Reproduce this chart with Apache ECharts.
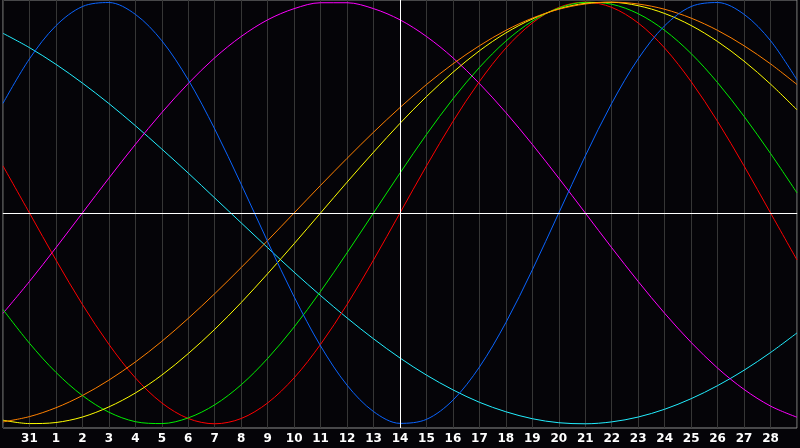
<html>
<head>
    <meta http-equiv="Content-Type" content="text/html; charset=utf-8">
    <title>echarts</title>
    <style>body{margin:0;background:#050408;}</style>
</head>
<body>
<div id="main" style="width:800px;height:448px;"></div>
</body>
</html>
<script type="text/javascript" src="https://cdn.jsdelivr.net/npm/echarts@6/dist/echarts.min.js"></script>
<script type="text/javascript">
// days shown along the bottom (first and last are the chart edges)
var days = ['30','31','1','2','3','4','5','6','7','8','9','10','11','12','13','14','15','16','17','18','19','20','21','22','23','24','25','26','27','28','29'];
var today = '14';

// one value per day, -100..100
var physical = [52.0,73.1,88.8,97.9,99.8,94.2,81.7,63.1,39.8,13.6,-13.6,-39.8,-63.1,-81.7,-94.2,-99.8,-97.9,-88.8,-73.1,-52.0,-27.0,0,27.0,52.0,73.1,88.8,97.9,99.8,94.2,81.7,63.1];
var emotional = [22.3,0,-22.3,-43.4,-62.3,-78.2,-90.1,-97.5,-100,-97.5,-90.1,-78.2,-62.3,-43.4,-22.3,0,22.3,43.4,62.3,78.2,90.1,97.5,100,97.5,90.1,78.2,62.3,43.4,22.3,0,-22.3];
var intellectual = [-45.8,-61.8,-75.6,-86.6,-94.5,-99.0,-99.9,-97.2,-91.0,-81.5,-69.0,-54.1,-37.2,-18.9,0,18.9,37.2,54.1,69.0,81.5,91.0,97.2,99.9,99.0,94.5,86.6,75.6,61.8,45.8,28.2,9.5];
var intuitive = [-47.6,-32.5,-16.5,0,16.5,32.5,47.6,61.4,73.6,83.7,91.6,96.9,99.7,99.7,96.9,91.6,83.7,73.6,61.4,47.6,32.5,16.5,0,-16.5,-32.5,-47.6,-61.4,-73.6,-83.7,-91.6,-96.9];
var aesthetic = [-98.3,-99.9,-99.4,-96.8,-92.0,-85.4,-76.9,-66.7,-55.2,-42.5,-28.8,-14.6,0,14.6,28.8,42.5,55.2,66.7,76.9,85.4,92.0,96.8,99.4,99.9,98.3,94.6,88.9,81.3,72.0,61.1,48.9];
var awareness = [-99.1,-96.6,-92.4,-86.6,-79.3,-70.7,-60.9,-50.0,-38.3,-25.9,-13.1,0,13.1,25.9,38.3,50.0,60.9,70.7,79.3,86.6,92.4,96.6,99.1,100,99.1,96.6,92.4,86.6,79.3,70.7,60.9];
var spiritual = [85.2,78.4,70.5,61.6,51.9,41.4,30.3,18.9,7.1,-4.7,-16.5,-28.1,-39.2,-49.8,-59.7,-68.8,-76.9,-83.9,-89.8,-94.3,-97.6,-99.5,-100,-99.1,-96.8,-93.1,-88.1,-81.9,-74.6,-66.2,-56.9];

var myChart = echarts.init(document.getElementById('main'));

function line(name, data, color) {
    return {
        name: name,
        type: 'line',
        data: data,
        smooth: 0.33,
        symbol: 'none',
        lineStyle: {color: color, width: 1},
        itemStyle: {color: color}
    };
}

var series = [
    line('spiritual', spiritual, '#22eeff'),
    line('intuitive', intuitive, '#ff00ff'),
    line('emotional', emotional, '#ff0000'),
    line('intellectual', intellectual, '#00ee00'),
    line('aesthetic', aesthetic, '#ffff00'),
    line('awareness', awareness, '#ff8000'),
    line('physical', physical, '#0a64ff')
];
series[0].markLine = {
    silent: true,
    symbol: 'none',
    label: {show: false},
    lineStyle: {color: '#ffffff', width: 1, type: 'solid'},
    data: [{yAxis: 0}, {xAxis: today}]
};

var option = {
    animation: false,
    backgroundColor: '#050408',
    grid: {left: 0, right: 1, top: 0, bottom: 20, show: true, borderColor: '#8c8c8c', borderWidth: 1},
    xAxis: {
        type: 'category',
        data: days,
        boundaryGap: false,
        axisLine: {lineStyle: {color: '#9a9a9a'}},
        axisTick: {show: false},
        splitLine: {show: true, interval: 0, lineStyle: {color: '#363636', width: 1}},
        axisLabel: {
            interval: 0,
            margin: 5,
            color: '#ffffff',
            fontFamily: 'DejaVu Sans',
            fontWeight: 'bold',
            fontSize: 12,
            formatter: function (v, i) { return (i === 0 || i === days.length - 1) ? '' : v; }
        }
    },
    yAxis: {
        type: 'value',
        min: -102,
        max: 101,
        show: false,
        splitLine: {show: false}
    },
    series: series
};
myChart.setOption(option);
</script>
